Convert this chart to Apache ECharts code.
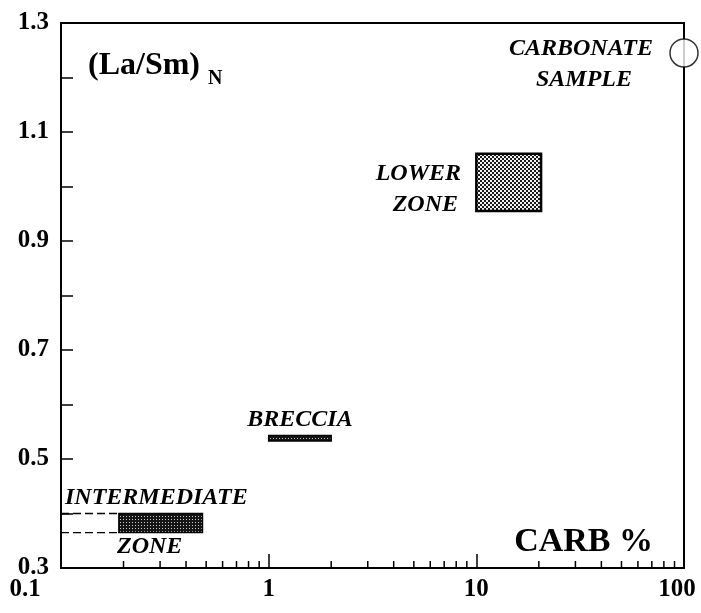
<!DOCTYPE html>
<html><head><meta charset="utf-8">
<script src="https://cdn.jsdelivr.net/npm/echarts@6/dist/echarts.min.js"></script>
<style>html,body{margin:0;padding:0;background:#fff}#c{width:701px;height:613px}</style>
</head><body><div id="c"></div>
<script>
// ---- data ----
const xTickLabels = [0.1, 1, 10, 100];
const yTickLabels = [0.3, 0.5, 0.7, 0.9, 1.1, 1.3];
const xMinorTicks = [0.2,0.3,0.4,0.5,0.6,0.7,0.8,0.9,2,3,4,5,6,7,8,9,20,30,40,50,60,70,80,90];
const zoneNames = ['LOWER ZONE', 'BRECCIA', 'INTERMEDIATE ZONE'];
const zoneXMin = [10, 1, 0.19];
const zoneXMax = [20.5, 2, 0.48];
const zoneYMin = [0.955, 0.533, 0.365];
const zoneYMax = [1.06, 0.543, 0.40];
const carbonateX = [100];
const carbonateY = [1.245];
const intermediateDashY = [0.40, 0.365];

// ---- patterns ----
function checker(light, dark, step) {
  const c = document.createElement('canvas');
  c.width = step * 2; c.height = step * 2;
  const g = c.getContext('2d');
  g.fillStyle = light; g.fillRect(0, 0, c.width, c.height);
  g.fillStyle = dark;
  g.fillRect(0, 0, step, step);
  g.fillRect(step, step, step, step);
  return { image: c, repeat: 'repeat' };
}
function dots(bg, dot, period) {
  const c = document.createElement('canvas');
  c.width = period; c.height = period;
  const g = c.getContext('2d');
  g.fillStyle = bg; g.fillRect(0, 0, period, period);
  g.fillStyle = dot; g.fillRect(0, 0, 1, 1);
  return { image: c, repeat: 'repeat' };
}
const zoneFills = [
  checker('#f4f4f4', '#1a1a1a', 2),
  dots('#151515', '#bbb', 3),
  dots('#151515', '#ccc', 3)
];
const zoneBorders = [2.5, 1.5, 1.5];

const serif = '"Liberation Serif", "DejaVu Serif", serif';
const chart = echarts.init(document.getElementById('c'));

const zoneData = zoneNames.map((n, i) => [zoneXMin[i], zoneXMax[i], zoneYMin[i], zoneYMax[i]]);

function label(text, x, y, align, size, italic) {
  return { type: 'text', x: x, y: y, style: {
    text: text, textAlign: align, textVerticalAlign: 'middle',
    fontFamily: serif, fontWeight: 'bold', fontStyle: italic ? 'italic' : 'normal',
    fontSize: size, fill: '#000' } };
}

const tickFont = { fontFamily: serif, fontWeight: 'bold', fontSize: 25, color: '#000' };

chart.setOption({
  animation: false,
  backgroundColor: '#fff',
  grid: { left: 61, right: 17, top: 23, bottom: 45, outerBoundsMode: 'none', containLabel: false,
          show: true, borderColor: '#000', borderWidth: 2, backgroundColor: 'transparent' },
  xAxis: {
    type: 'log', logBase: 10, min: 0.1, max: 100,
    axisLine: { show: true, lineStyle: { color: '#000', width: 2 } },
    axisTick: { show: true, inside: true, length: 14, lineStyle: { color: '#000', width: 1.5 } },
    splitLine: { show: false },
    axisLabel: Object.assign({}, tickFont, {
      margin: 9, hideOverlap: false,
      formatter: v => {
        const r = +(+v).toPrecision(3);
        if (xTickLabels.indexOf(r) < 0) return '';
        if (r === xTickLabels[0]) return '{first|' + r + '}';
        if (r === xTickLabels[xTickLabels.length - 1]) return '{last|' + r + '}';
        return String(r);
      },
      rich: {
        first: Object.assign({}, tickFont, { padding: [0, 72, 0, 0] }),
        last: Object.assign({}, tickFont, { padding: [0, 14, 0, 0] })
      }
    })
  },
  yAxis: {
    type: 'value', min: 0.3, max: 1.3, interval: 0.1,
    axisLine: { show: true, lineStyle: { color: '#000', width: 2 } },
    axisTick: { show: true, inside: true, length: 12, lineStyle: { color: '#000', width: 1.5 } },
    splitLine: { show: false },
    axisLabel: Object.assign({}, tickFont, {
      margin: 12,
      formatter: v => { const r = +(+v).toFixed(1); return yTickLabels.some(t => Math.abs(t - r) < 1e-6) ? r.toFixed(1) : ''; }
    })
  },
  series: [
    {
      type: 'custom', name: 'minor ticks', clip: false, silent: true,
      data: xMinorTicks.map(v => [v]),
      renderItem: (params, api) => {
        const p = api.coord([api.value(0), 0.3]);
        return { type: 'line', shape: { x1: p[0], y1: p[1], x2: p[0], y2: p[1] - 7 }, style: { stroke: '#000', lineWidth: 1.5 } };
      }
    },
    {
      type: 'line', name: 'dash top', silent: true, symbol: 'none',
      data: [[0.1, intermediateDashY[0]], [zoneXMin[2], intermediateDashY[0]]],
      lineStyle: { color: '#000', width: 1.3, type: [8, 4] }
    },
    {
      type: 'line', name: 'dash bottom', silent: true, symbol: 'none',
      data: [[0.1, intermediateDashY[1]], [zoneXMin[2], intermediateDashY[1]]],
      lineStyle: { color: '#000', width: 1.3, type: [8, 4] }
    },
    {
      type: 'custom', name: 'zones', silent: true,
      data: zoneData,
      renderItem: (params, api) => {
        const a = api.coord([api.value(0), api.value(3)]);
        const b = api.coord([api.value(1), api.value(2)]);
        return { type: 'rect', shape: { x: a[0], y: a[1], width: b[0] - a[0], height: b[1] - a[1] },
          style: { fill: zoneFills[params.dataIndex], stroke: '#000', lineWidth: zoneBorders[params.dataIndex] } };
      }
    },
    {
      type: 'scatter', name: 'carbonate', clip: false, silent: true,
      data: carbonateX.map((x, i) => [x, carbonateY[i]]),
      symbol: 'circle', symbolSize: 28,
      itemStyle: { color: '#fff', borderColor: '#000', borderWidth: 1.5 },
      z: 10
    }
  ],
  graphic: [
    label('(La/Sm)', 88, 66, 'left', 32, false),
    label('N', 208, 79, 'left', 20, false),
    label('CARB %', 653, 542, 'right', 34, false),
    label('CARBONATE', 653, 49, 'right', 24, true),
    label('SAMPLE', 632, 80, 'right', 24, true),
    label('LOWER', 461, 174, 'right', 24, true),
    label('ZONE', 458, 205, 'right', 24, true),
    label('BRECCIA', 300, 420, 'center', 24, true),
    label('INTERMEDIATE', 65, 498, 'left', 24, true),
    label('ZONE', 117, 547, 'left', 24, true)
  ]
});
</script>
</body></html>
